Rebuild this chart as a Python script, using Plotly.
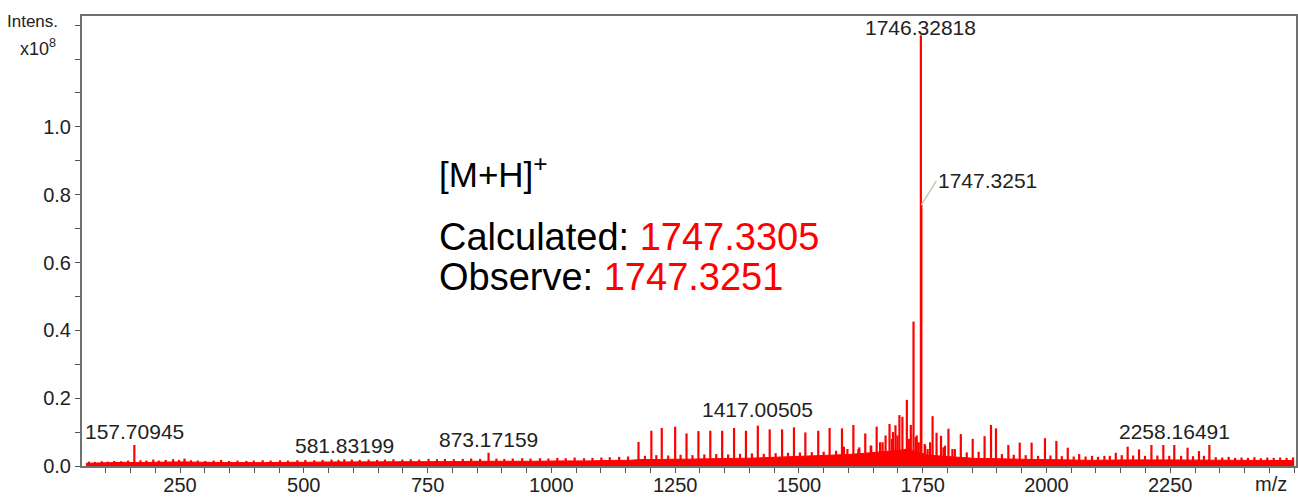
import plotly.graph_objects as go

# ---------------- data (intensity in units of 1e8) ----------------
# labelled peaks
label_mz = [157.70945, 581.83199, 873.17159, 1417.00505, 1746.32818, 2258.16491]
label_int = [0.062, 0.020, 0.039, 0.119, 1.270, 0.062]
label_text = ["157.70945", "581.83199", "873.17159", "1417.00505", "1746.32818", "2258.16491"]

# observed isotope peak with leader line
obs_mz = 1747.3251
obs_int = 0.770

# main peak series (m/z, intensity)
peak_mz = [1176, 1202, 1223, 1250, 1273, 1297, 1321, 1345, 1369, 1393,
           1441, 1466, 1490, 1513, 1539, 1562, 1587, 1610, 1634, 1657,
           1683, 1695, 1703, 1709, 1718, 1726, 1731.5, 1770, 1778, 1787,
           1802, 1827, 1851, 1875, 1888, 1898, 1923, 1946, 1970, 1997,
           2020, 2043, 2066, 2092, 2117, 2140, 2164, 2187, 2212, 2236,
           2285, 2308, 2329]
peak_int = [0.071, 0.104, 0.112, 0.116, 0.096, 0.103, 0.104, 0.104, 0.112, 0.104,
            0.108, 0.108, 0.114, 0.099, 0.104, 0.112, 0.111, 0.121, 0.096, 0.116,
            0.124, 0.120, 0.150, 0.145, 0.195, 0.121, 0.426, 0.147, 0.098, 0.089,
            0.110, 0.094, 0.080, 0.088, 0.121, 0.111, 0.062, 0.069, 0.069, 0.082,
            0.074, 0.054, 0.035, 0.030, 0.030, 0.039, 0.057, 0.049, 0.062, 0.062,
            0.054, 0.044, 0.062]

# small / noise peaks
noise_mz = [66, 78, 92, 104, 117, 131, 145, 170, 182, 196,
            207, 221, 236, 248, 259, 272, 286, 301, 318, 333,
            349, 366, 384, 399, 417, 433, 452, 468, 487, 503,
            521, 538, 556, 570, 597, 613, 631, 648, 664, 681,
            699, 716, 733, 752, 769, 785, 803, 821, 838, 856,
            889, 905, 922, 941, 958, 977, 994, 1012, 1029, 1047,
            1066, 1083, 1101, 1118, 1137, 1155, 1189, 1212, 1236, 1261,
            1285, 1309, 1333, 1357, 1381, 1405, 1429, 1453, 1478, 1502,
            1526, 1550, 1575, 1591, 1598, 1620, 1622, 1645, 1646, 1664,
            1669, 1675, 1688, 1690, 1699, 1722, 1736, 1738, 1742, 1754,
            1755, 1760, 1765, 1792, 1795, 1810, 1815, 1839, 1863, 1910,
            1934, 1958, 1983, 2008, 2031, 2055, 2079, 2104, 2128, 2152,
            2175, 2199, 2224, 2248, 2272, 2296, 2318, 2342, 2355, 2368,
            2381, 2394, 2407, 2420, 2433, 2446, 2459, 2472, 2485, 2498]
noise_int = [0.013, 0.012, 0.014, 0.013, 0.015, 0.014, 0.016, 0.017, 0.016, 0.019,
             0.016, 0.018, 0.020, 0.018, 0.022, 0.017, 0.016, 0.015, 0.016, 0.018,
             0.015, 0.016, 0.015, 0.016, 0.017, 0.016, 0.017, 0.016, 0.017, 0.018,
             0.017, 0.018, 0.019, 0.018, 0.019, 0.018, 0.019, 0.018, 0.019, 0.020,
             0.019, 0.020, 0.019, 0.021, 0.020, 0.021, 0.020, 0.021, 0.022, 0.021,
             0.022, 0.021, 0.022, 0.023, 0.022, 0.023, 0.022, 0.024, 0.023, 0.025,
             0.023, 0.024, 0.025, 0.026, 0.027, 0.028, 0.030, 0.032, 0.031, 0.033,
             0.032, 0.034, 0.035, 0.034, 0.036, 0.037, 0.036, 0.038, 0.039, 0.040,
             0.041, 0.042, 0.045, 0.057, 0.050, 0.050, 0.055, 0.060, 0.060, 0.070,
             0.070, 0.090, 0.080, 0.100, 0.090, 0.080, 0.085, 0.090, 0.070, 0.065,
             0.060, 0.050, 0.070, 0.055, 0.060, 0.050, 0.050, 0.040, 0.042, 0.035,
             0.033, 0.032, 0.030, 0.031, 0.029, 0.028, 0.028, 0.027, 0.030, 0.032,
             0.031, 0.030, 0.031, 0.030, 0.030, 0.029, 0.030, 0.026, 0.025, 0.027,
             0.024, 0.025, 0.024, 0.026, 0.023, 0.025, 0.024, 0.025, 0.024, 0.025]

# baseline level (sampled every 20 m/z from 60 to 2500)
baseline_mz = list(range(60, 2501, 20))
baseline_int = [0.008, 0.009, 0.010, 0.009, 0.011, 0.010, 0.011, 0.012, 0.011, 0.012,
                0.012, 0.011, 0.010, 0.011, 0.010, 0.010, 0.009, 0.010, 0.010, 0.011,
                0.010, 0.011, 0.011, 0.012, 0.011, 0.012, 0.012, 0.012, 0.011, 0.012,
                0.012, 0.012, 0.013, 0.012, 0.013, 0.013, 0.012, 0.013, 0.013, 0.014,
                0.013, 0.014, 0.014, 0.013, 0.014, 0.014, 0.015, 0.014, 0.015, 0.015,
                0.014, 0.015, 0.016, 0.016, 0.017, 0.017, 0.019, 0.018, 0.019, 0.020,
                0.019, 0.020, 0.021, 0.021, 0.022, 0.022, 0.023, 0.023, 0.024, 0.025,
                0.025, 0.026, 0.027, 0.028, 0.029, 0.030, 0.032, 0.034, 0.036, 0.038,
                0.040, 0.043, 0.046, 0.050, 0.040, 0.032, 0.030, 0.028, 0.025, 0.024,
                0.022, 0.022, 0.021, 0.020, 0.020, 0.019, 0.019, 0.019, 0.018, 0.018,
                0.018, 0.017, 0.017, 0.018, 0.018, 0.018, 0.018, 0.019, 0.018, 0.018,
                0.018, 0.018, 0.018, 0.018, 0.017, 0.017, 0.016, 0.016, 0.016, 0.017,
                0.016, 0.016, 0.016]

x_tickvals = [250, 500, 750, 1000, 1250, 1500, 1750, 2000, 2250]
y_tickvals = [0.0, 0.2, 0.4, 0.6, 0.8, 1.0]
y_ticktext = ["0.0", "0.2", "0.4", "0.6", "0.8", "1.0"]

RED = "#ff0000"
FONT = "Liberation Sans, Arial, sans-serif"
TXT = "#222222"
AXC = "#707070"

# ---------------- build stick segments ----------------
all_mz = noise_mz + peak_mz + label_mz + [obs_mz]
all_int = noise_int + peak_int + label_int + [obs_int]
sx, sy = [], []
for m, h in zip(all_mz, all_int):
    sx += [m, m, None]
    sy += [0, h, None]

fig = go.Figure()
fig.add_trace(go.Scatter(x=baseline_mz, y=baseline_int, mode="lines", fill="tozeroy",
                         line=dict(color=RED, width=1), fillcolor=RED,
                         hoverinfo="skip", showlegend=False))
fig.add_trace(go.Scatter(x=sx, y=sy, mode="lines", line=dict(color=RED, width=2.2),
                         hoverinfo="skip", showlegend=False))

annotations = []
shifts = {"1746.32818": -6, "1417.00505": 3}
for m, h, t in zip(label_mz, label_int, label_text):
    annotations.append(dict(x=m, y=h, xref="x", yref="y", text=t, showarrow=False,
                            xanchor="center", yanchor="bottom", yshift=shifts.get(t, 0),
                            font=dict(family=FONT, size=21, color=TXT)))
annotations.append(dict(x=obs_mz, y=obs_int, xref="x", yref="y", text="1747.3251",
                        showarrow=True, arrowhead=0, arrowwidth=1.5, arrowcolor="#c9c6ad",
                        ax=15, ay=-24, xanchor="left", yanchor="middle",
                        font=dict(family=FONT, size=21, color=TXT)))
# axis captions
annotations.append(dict(x=-0.018, y=0.9867, xref="paper", yref="paper", text="Intens.",
                        showarrow=False, xanchor="right", yanchor="middle",
                        font=dict(family=FONT, size=17, color=TXT)))
annotations.append(dict(x=-0.020, y=0.929, xref="paper", yref="paper", text="x10<sup>8</sup>",
                        showarrow=False, xanchor="right", yanchor="middle",
                        font=dict(family=FONT, size=18, color=TXT)))
annotations.append(dict(x=0.979, y=-0.04, xref="paper", yref="paper", text="m/z",
                        showarrow=False, xanchor="center", yanchor="middle",
                        font=dict(family=FONT, size=20, color=TXT)))
# big text block
annotations.append(dict(x=0.2922, y=0.6533, xref="paper", yref="paper",
                        text="[M+H]<sup>+</sup>", showarrow=False, xanchor="left", yanchor="middle",
                        font=dict(family=FONT, size=35, color="#000000")))
annotations.append(dict(x=0.2922, y=0.5089, xref="paper", yref="paper",
                        text="Calculated: <span style='color:#ff0000'>1747.3305</span>",
                        showarrow=False, xanchor="left", yanchor="middle",
                        font=dict(family=FONT, size=38, color="#000000")))
annotations.append(dict(x=0.2922, y=0.42, xref="paper", yref="paper",
                        text="Observe: <span style='color:#ff0000'>1747.3251</span>",
                        showarrow=False, xanchor="left", yanchor="middle",
                        font=dict(family=FONT, size=38, color="#000000")))

fig.update_layout(
    width=1298, height=498,
    margin=dict(l=82, r=2, t=16, b=32, autoexpand=False),
    paper_bgcolor="white", plot_bgcolor="white",
    annotations=annotations,
    xaxis=dict(range=[52, 2504], tickvals=x_tickvals, ticks="outside", ticklen=5,
               tickcolor="#555555", showgrid=False, zeroline=False, automargin=False,
               showline=True, linecolor=AXC, linewidth=2, mirror=True, ticklabelstandoff=-5,
               tickfont=dict(family=FONT, size=20, color=TXT),
               minor=dict(dtick=50, tick0=0, ticks="outside", ticklen=5, tickcolor="#555555", showgrid=False)),
    yaxis=dict(range=[0, 1.327], tickvals=y_tickvals, ticktext=y_ticktext, ticks="outside", ticklen=5,
               tickcolor="#555555", showgrid=False, zeroline=False, automargin=False,
               showline=True, linecolor=AXC, linewidth=2, mirror=True,
               tickfont=dict(family=FONT, size=20, color=TXT),
               minor=dict(dtick=0.1, tick0=0, ticks="outside", ticklen=5, tickcolor="#555555", showgrid=False)),
)

fig.write_html("out.html")
